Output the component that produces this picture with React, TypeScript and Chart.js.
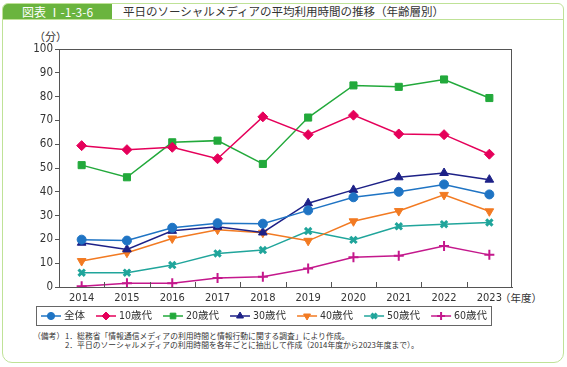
import React, { useEffect, useRef } from "react";
import { Chart, registerables } from "chart.js";
import { drawPoint } from "chart.js/helpers";

Chart.register(...registerables);

const years = ["2014", "2015", "2016", "2017", "2018", "2019", "2020", "2021", "2022", "2023"];
const yTicksMax = 100;
const yTickStep = 10;

const allAges = [19.9, 19.5, 24.9, 26.8, 26.6, 32.2, 37.7, 40.0, 43.1, 38.9];
const teens = [59.4, 57.7, 58.7, 53.9, 71.5, 64.0, 72.2, 64.3, 64.0, 55.8];
const twenties = [51.2, 46.1, 60.8, 61.5, 51.7, 71.2, 84.7, 84.1, 87.2, 79.4];
const thirties = [18.6, 15.8, 23.6, 25.3, 22.9, 35.2, 40.8, 46.1, 47.9, 45.1];
const forties = [10.9, 14.4, 20.4, 24.1, 22.8, 19.4, 27.6, 31.9, 38.7, 31.8];
const fifties = [6.0, 6.0, 9.2, 14.1, 15.5, 23.5, 19.8, 25.5, 26.4, 27.1];
const sixties = [0.3, 1.6, 1.6, 3.8, 4.3, 7.8, 12.5, 13.1, 17.2, 13.5];

const seriesNames = ["全体", "10歳代", "20歳代", "30歳代", "40歳代", "50歳代", "60歳代"];
const seriesColors = ["#1f74c4", "#e5005a", "#22a93b", "#1d2187", "#f27a22", "#20a59b", "#c4188c"];

const FONT = '"Liberation Sans Narrow", "DejaVu Sans Condensed", "Noto Sans CJK JP", sans-serif';
const CJK = '"Noto Sans CJK JP", "Noto Sans", sans-serif';

const styles = [
  { pointStyle: "circle", radius: 4.5, rotation: 0, bw: 1 },
  { pointStyle: "rectRot", radius: 5, rotation: 0, bw: 1 },
  { pointStyle: "rect", radius: 5, rotation: 0, bw: 1 },
  { pointStyle: "triangle", radius: 5, rotation: 0, bw: 1 },
  { pointStyle: "triangle", radius: 5, rotation: 180, bw: 1 },
  { pointStyle: "crossRot", radius: 4.5, rotation: 0, bw: 3 },
  { pointStyle: "cross", radius: 5, rotation: 0, bw: 2 },
];

const frameBoxPlugin = {
  id: "frameBox",
  afterDraw(chart: any) {
    const { ctx, chartArea } = chart;
    const xs = chart.scales.x;
    ctx.save();
    ctx.strokeStyle = "#555";
    ctx.lineWidth = 1;
    ctx.strokeRect(chartArea.left + 0.5, chartArea.top + 0.5, chartArea.right - chartArea.left - 1, chartArea.bottom - chartArea.top);
    for (let i = 0; i < years.length - 1; i++) {
      const px = Math.round((xs.getPixelForValue(i) + xs.getPixelForValue(i + 1)) / 2) + 0.5;
      ctx.beginPath();
      ctx.moveTo(px, chartArea.bottom);
      ctx.lineTo(px, chartArea.bottom - 5);
      ctx.stroke();
    }
    ctx.strokeStyle = "#666";
    ctx.strokeRect(36.5, 306.5, 455, 19);
    let x = 41;
    const y = 316;
    ctx.font = "10.5px " + FONT;
    ctx.textBaseline = "middle";
    ctx.textAlign = "left";
    chart.data.datasets.forEach((ds: any, i: number) => {
      const c = ds.borderColor;
      ctx.strokeStyle = c;
      ctx.fillStyle = c;
      ctx.lineWidth = 1.5;
      ctx.beginPath();
      ctx.moveTo(x, y);
      ctx.lineTo(x + 20, y);
      ctx.stroke();
      const s = styles[i];
      ctx.lineWidth = s.bw;
      drawPoint(ctx, { pointStyle: s.pointStyle, radius: s.radius * 0.8, rotation: s.rotation, borderWidth: s.bw } as any, x + 10, y);
      ctx.fillStyle = "#333";
      ctx.fillText(ds.label, x + 23, y);
      const w = ctx.measureText(ds.label).width;
      x = x + 23 + w + 11;
    });
    ctx.restore();
  },
};

function ChartCanvas() {
  const ref = useRef<HTMLCanvasElement>(null);
  useEffect(() => {
    const data = [allAges, teens, twenties, thirties, forties, fifties, sixties];
    const chart = new Chart(ref.current!, {
      type: "line",
      data: {
        labels: years,
        datasets: data.map((d, i) => ({
          label: seriesNames[i],
          data: d,
          borderColor: seriesColors[i],
          backgroundColor: seriesColors[i],
          pointBackgroundColor: seriesColors[i],
          pointBorderColor: seriesColors[i],
          borderWidth: 1.5,
          pointStyle: styles[i].pointStyle as any,
          pointRadius: styles[i].radius,
          pointRotation: styles[i].rotation,
          pointBorderWidth: styles[i].bw,
          tension: 0,
          fill: false,
        })),
      },
      options: {
        responsive: false,
        animation: false,
        devicePixelRatio: 1,
        layout: { padding: { left: 0, top: 49, right: 55, bottom: 0 } },
        plugins: { legend: { display: false }, tooltip: { enabled: false } },
        scales: {
          x: {
            type: "category",
            offset: true,
            grid: { display: false, drawTicks: false },
            border: { display: true, color: "#555", width: 1 },
            ticks: { color: "#333", font: { family: FONT, size: 11 }, padding: 5, maxRotation: 0, autoSkip: false },
            afterFit: (s: any) => { s.height = 80; },
          },
          y: {
            min: 0,
            max: yTicksMax,
            grid: { drawOnChartArea: false, tickLength: 4, color: "#555" },
            border: { display: true, color: "#555", width: 1 },
            ticks: { stepSize: yTickStep, color: "#333", font: { family: FONT, size: 11.5 }, padding: 2 },
            afterFit: (s: any) => { s.width = 59; },
          },
        },
      },
      plugins: [frameBoxPlugin],
    });
    return () => chart.destroy();
  }, []);
  return <canvas ref={ref} width={567} height={367} style={{ position: "absolute", left: 0, top: 0, width: 567, height: 367 }} />;
}

export default function App() {
  const green = "#bfe297";
  return (
    <div style={{ position: "absolute", left: 0, top: 0, width: 567, height: 367, background: "#fff", fontFamily: CJK, overflow: "hidden" }}>
      <div style={{ position: "absolute", left: 2, top: 3, width: 562, height: 360, border: `1.5px solid ${green}`, borderRadius: "6px 6px 10px 10px", boxSizing: "border-box" }} />
      <div style={{ position: "absolute", left: 2, top: 19, width: 562, height: 0, borderTop: `1.5px solid ${green}` }} />
      <div style={{ position: "absolute", left: 3, top: 4, width: 109, height: 15, background: "#6ab43e", borderTopLeftRadius: 5, color: "#fff", fontSize: 12, lineHeight: "15px", textAlign: "center", whiteSpace: "nowrap", fontWeight: 400 }}>図表 Ⅰ-1-3-6</div>
      <div style={{ position: "absolute", left: 123, top: 3, fontSize: 11.5, lineHeight: "16px", color: "#333", whiteSpace: "nowrap", fontWeight: 400 }}>平日のソーシャルメディアの平均利用時間の推移（年齢層別）</div>
      <div style={{ position: "absolute", left: 34, top: 29, fontSize: 11, lineHeight: "14px", color: "#333", whiteSpace: "nowrap" }}>（分）</div>
      <div style={{ position: "absolute", left: 500, top: 291, fontSize: 10.5, lineHeight: "14px", color: "#333", whiteSpace: "nowrap" }}>（年度）</div>
      <div style={{ position: "absolute", left: 33, top: 331, fontSize: 7.8, lineHeight: "9px", color: "#333", whiteSpace: "nowrap" }}>（備考）</div>
      <div style={{ position: "absolute", left: 65, top: 331, fontSize: 7.8, lineHeight: "9px", color: "#333", whiteSpace: "nowrap" }}>1．総務省「情報通信メディアの利用時間と情報行動に関する調査」により作成。</div>
      <div style={{ position: "absolute", left: 65, top: 340, fontSize: 7.8, lineHeight: "9px", color: "#333", whiteSpace: "nowrap" }}>2．平日のソーシャルメディアの利用時間を各年ごとに抽出して作成（2014年度から2023年度まで）。</div>
      <ChartCanvas />
    </div>
  );
}
